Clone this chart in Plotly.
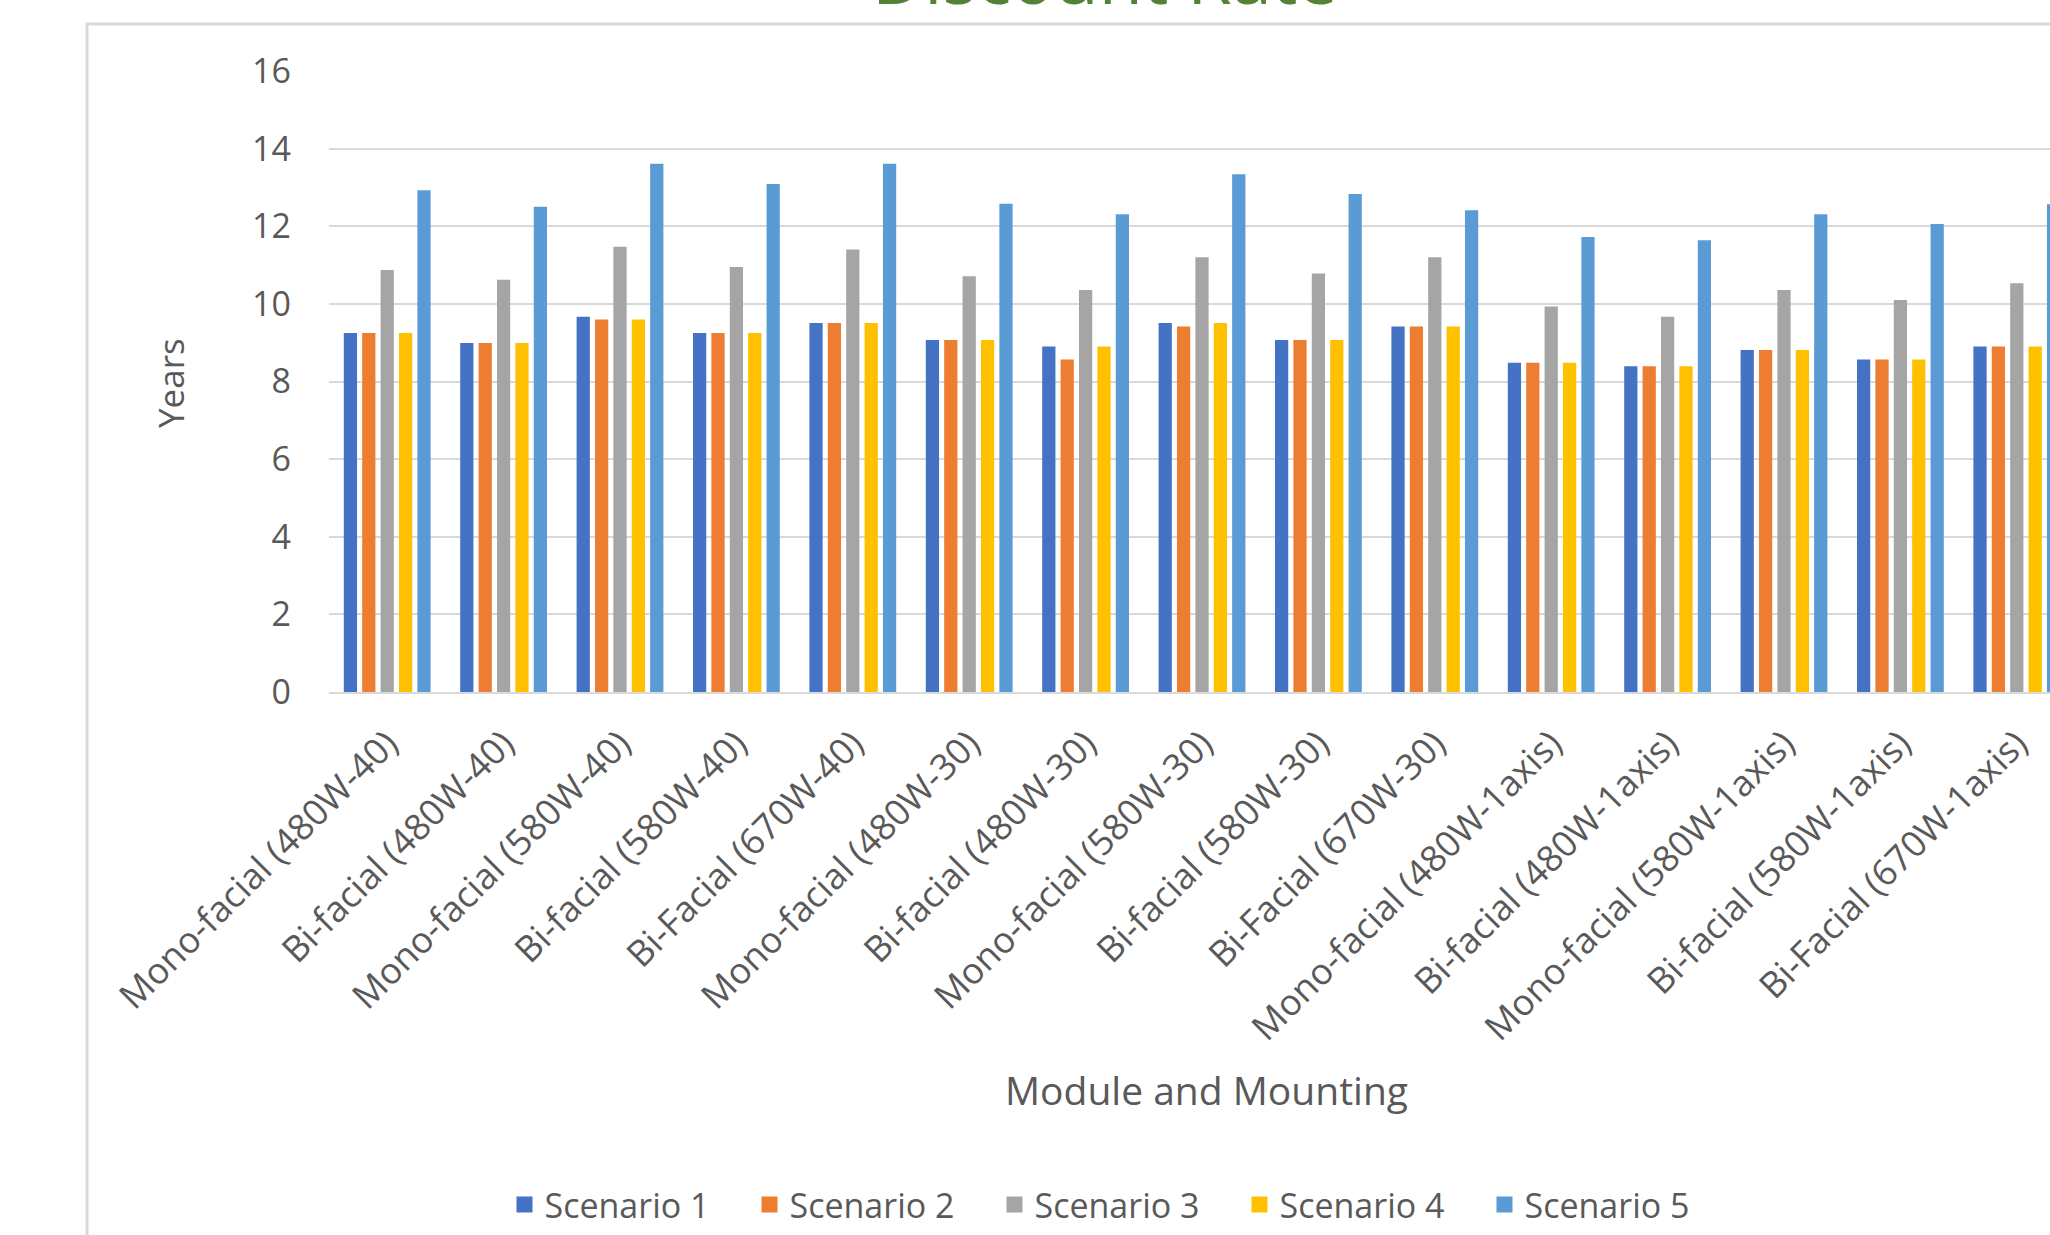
import plotly.graph_objects as go

categories = [
    "Mono-facial (480W-40)", "Bi-facial (480W-40)", "Mono-facial (580W-40)",
    "Bi-facial (580W-40)", "Bi-Facial (670W-40)", "Mono-facial (480W-30)",
    "Bi-facial (480W-30)", "Mono-facial (580W-30)", "Bi-facial (580W-30)",
    "Bi-Facial (670W-30)", "Mono-facial (480W-1axis)", "Bi-facial (480W-1axis)",
    "Mono-facial (580W-1axis)", "Bi-facial (580W-1axis)", "Bi-Facial (670W-1axis)",
]

scenario_1 = [9.25, 8.99, 9.67, 9.25, 9.51, 9.07, 8.90, 9.51, 9.07, 9.42, 8.48, 8.39, 8.81, 8.57, 8.90]
scenario_2 = [9.25, 8.99, 9.60, 9.25, 9.51, 9.07, 8.57, 9.42, 9.07, 9.42, 8.48, 8.39, 8.81, 8.57, 8.90]
scenario_3 = [10.87, 10.62, 11.47, 10.95, 11.40, 10.71, 10.36, 11.20, 10.78, 11.20, 9.93, 9.67, 10.36, 10.10, 10.53]
scenario_4 = [9.25, 8.99, 9.60, 9.25, 9.51, 9.07, 8.90, 9.51, 9.07, 9.42, 8.48, 8.39, 8.81, 8.57, 8.90]
scenario_5 = [12.93, 12.50, 13.61, 13.09, 13.61, 12.58, 12.31, 13.34, 12.83, 12.41, 11.72, 11.64, 12.31, 12.06, 12.57]

series_names = ["Scenario 1", "Scenario 2", "Scenario 3", "Scenario 4", "Scenario 5"]
series_values = [scenario_1, scenario_2, scenario_3, scenario_4, scenario_5]
colors = ["#4472C4", "#ED7D31", "#A5A5A5", "#FFC000", "#5B9BD5"]

W, H = 2050, 1235
L, T, B_PX = 329, 71, 692          # plot area left / top / bottom (px)
PW, PH = W - L, B_PX - T
CAT_W = 116.4                       # px per category


def px_x(px):
    return (px - L) / PW


def px_y(py):
    return (B_PX - py) / PH


FONT = "Open Sans"
GREY = "#595959"

fig = go.Figure()
for name, vals, col in zip(series_names, series_values, colors):
    fig.add_trace(go.Bar(x=categories, y=vals, name=name, marker_color=col,
                         marker_line_width=0, showlegend=False,
                         legendgroup=name))
# legend entries with larger square swatches
for name, col in zip(series_names, colors):
    fig.add_trace(go.Scatter(x=[None], y=[None], mode="markers", name=name,
                             legendgroup=name,
                             marker=dict(symbol="square", size=18, color=col)))

x_hi = 14.5 - (L + 15 * CAT_W - W) / CAT_W

fig.update_layout(
    width=W, height=H,
    margin=dict(l=L, r=0, t=T, b=H - B_PX, pad=0),
    paper_bgcolor="white", plot_bgcolor="white",
    barmode="group", bargap=0.21, bargroupgap=0.28,
    font=dict(family=FONT, color=GREY, size=33),
    showlegend=True,
    legend=dict(orientation="h", x=px_x(1117), xanchor="center",
                y=px_y(1176), yanchor="top",
                font=dict(family=FONT, size=34, color=GREY),
                itemsizing="trace", traceorder="normal", itemwidth=30,
                entrywidth=200, entrywidthmode="pixels"),
    xaxis=dict(range=[-0.5, x_hi], tickangle=-45, showgrid=False,
               showline=True, linecolor="#D9D9D9", linewidth=2,
               ticks="", ticklabelstandoff=14,
               tickfont=dict(family=FONT, size=36, color=GREY)),
    yaxis=dict(range=[0, 16], dtick=2, showgrid=True, gridcolor="#D9D9D9",
               gridwidth=2, zeroline=False, showline=False, ticks="",
               ticklabelstandoff=37,
               tickfont=dict(family=FONT, size=34, color=GREY)),
)

# Chart frame (light grey border, partially off-page)
fig.add_shape(type="rect", xref="paper", yref="paper",
              x0=px_x(87), x1=px_x(2300), y0=px_y(1400), y1=px_y(24),
              line=dict(color="#D9D9D9", width=3), fillcolor="rgba(0,0,0,0)",
              layer="below")

# Title (mostly cut off at top, as in the reference)
fig.add_annotation(text="Discount Rate", xref="paper", yref="paper",
                   x=px_x(1105), y=px_y(27), xanchor="center", yanchor="bottom",
                   showarrow=False,
                   font=dict(family=FONT, size=72, color="#538135"))

# Axis titles
fig.add_annotation(text="Years", xref="paper", yref="paper",
                   x=px_x(170), y=px_y(383), xanchor="center", yanchor="middle",
                   textangle=-90, showarrow=False,
                   font=dict(family=FONT, size=35, color=GREY))
fig.add_annotation(text="Module and Mounting", xref="paper", yref="paper",
                   x=px_x(1206), y=px_y(1089), xanchor="center", yanchor="middle",
                   showarrow=False,
                   font=dict(family=FONT, size=39, color=GREY))

fig.write_html("out.html")
